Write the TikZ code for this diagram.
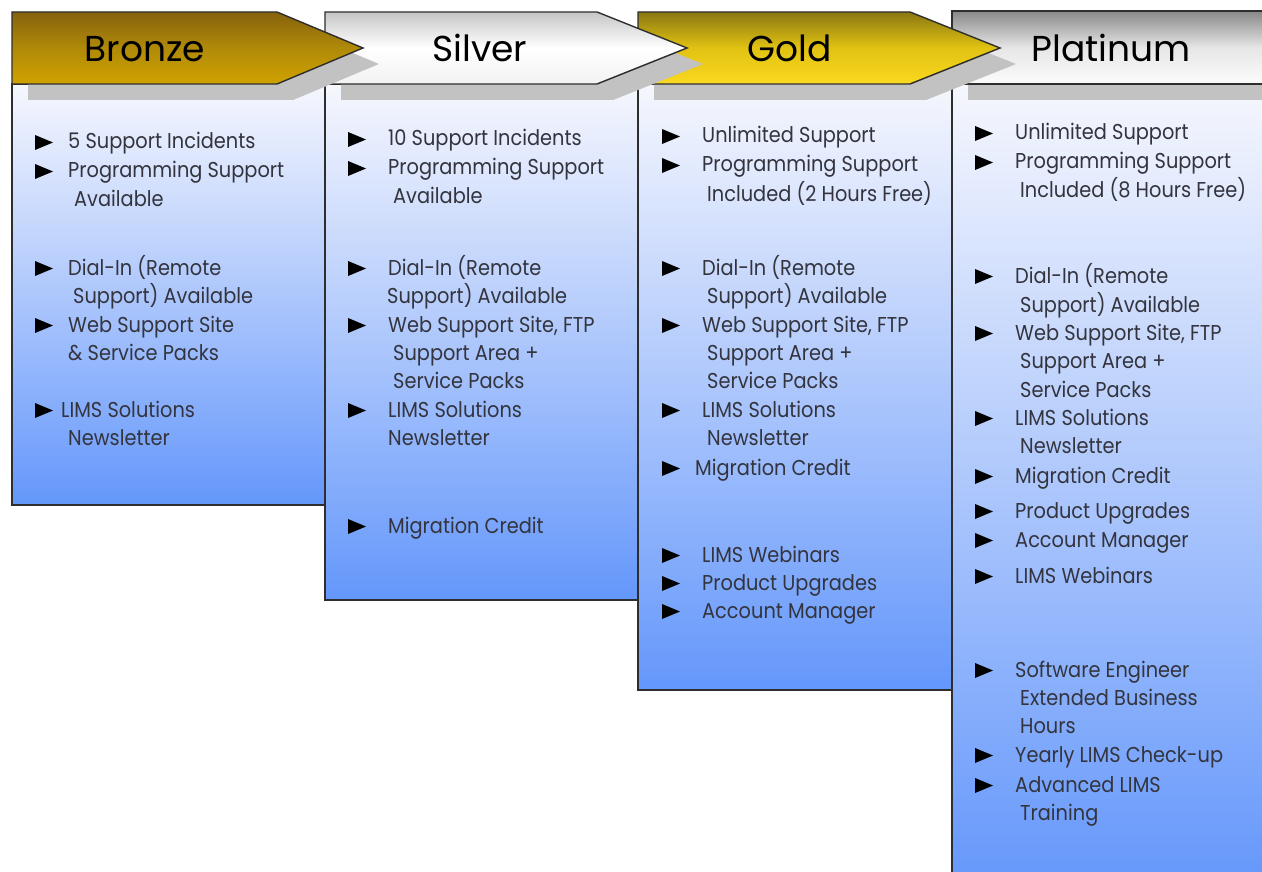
\documentclass[tikz,border=0pt]{standalone}
\usepackage{fontspec}
\setmainfont{Poppins}
\newfontfamily\bodyfont[FakeStretch=0.9]{Poppins}
\definecolor{linegray}{HTML}{2E2E2E}
\definecolor{boxtop}{HTML}{F6F7FD}
\definecolor{boxbot}{HTML}{6497FB}
\definecolor{shadowgray}{HTML}{C2C2C2}
\definecolor{txtc}{HTML}{33343E}
\definecolor{brTop}{HTML}{86620E}
\definecolor{brMid}{HTML}{B08A08}
\definecolor{brBot}{HTML}{D0A200}
\definecolor{siTop}{HTML}{C6C6C6}
\definecolor{siMid}{HTML}{FFFFFF}
\definecolor{siBot}{HTML}{F2F2F2}
\definecolor{goTop}{HTML}{8A7812}
\definecolor{goMid}{HTML}{E2C212}
\definecolor{goBot}{HTML}{FAD920}
\definecolor{plTop}{HTML}{888888}
\definecolor{plMid}{HTML}{E6E6E6}
\definecolor{plBot}{HTML}{FCFCFC}
\tikzset{
  box/.style={draw=linegray, line width=1.4pt, top color=boxtop, bottom color=boxbot},
  hdr/.style={draw=linegray, line width=1.4pt, line join=miter},
  shadowc/.style={fill=shadowgray},
  txt/.style={anchor=base west, inner sep=0pt, font=\bodyfont\fontsize{21.5}{24}\selectfont, text=txtc},
  ttl/.style={anchor=base, inner sep=0pt, font=\fontsize{36}{40}\selectfont, text=black},
}
\newcommand\itmb[5]{\fill[black] (#2,#4-14) -- (#2+18,#4-6.5) -- (#2,#4+1) -- cycle; \node[txt] (#1) at (#3,#4) {#5};}
\newcommand\itmc[4]{\node[txt] (#1) at (#2,#3) {#4};}
\begin{document}
\begin{tikzpicture}[x=1pt,y=-1pt]
\useasboundingbox (0,0) rectangle (1262,872);
\clip (0,0) rectangle (1262,872);
\fill[white] (0,0) rectangle (1262,872);
% boxes
\path[box] (12,84) rectangle (325,505);
\path[box] (325,84) rectangle (638,600);
\path[box] (638,84) rectangle (952,690);
\path[box] (952,84) rectangle (1280,890);
% platinum header
\fill[shadowc] (968,28) rectangle (1280,100);
\path[hdr, top color=plTop, bottom color=plBot, middle color=plMid] (952,11) rectangle (1280,84);
% gold header
\fill[shadowc] (654,28) -- (926,28) -- (1016,64) -- (926,100) -- (654,100) -- cycle;
\path[hdr, top color=goTop, bottom color=goBot, middle color=goMid] (638,12) -- (910,12) -- (1000,48) -- (910,84) -- (638,84) -- cycle;
% silver header
\fill[shadowc] (341,28) -- (613,28) -- (703,64) -- (613,100) -- (341,100) -- cycle;
\path[hdr, top color=siTop, bottom color=siBot, middle color=siMid] (325,12) -- (597,12) -- (687,48) -- (597,84) -- (325,84) -- cycle;
% bronze header
\fill[shadowc] (28,28) -- (293,28) -- (379,64) -- (293,100) -- (28,100) -- cycle;
\path[hdr, top color=brTop, bottom color=brBot, middle color=brMid] (12,12) -- (277,12) -- (363,48) -- (277,84) -- (12,84) -- cycle;
% titles
\node[ttl] (tB) at (145,62) {Bronze};
\node[ttl] (tS) at (480,62) {Silver};
\node[ttl] (tG) at (790,62) {Gold};
\node[ttl] (tP) at (1111,62) {Platinum};
% bronze items
\itmb{b1}{35}{68}{149}{5 Support Incidents}
\itmb{b2}{35}{68}{178}{Programming Support}
\itmc{b2c}{74}{207}{Available}
\itmb{b3}{35}{68}{275}{Dial-In (Remote}
\itmc{b3c}{73}{303}{Support) Available}
\itmb{b4}{35}{68}{332}{Web Support Site}
\itmc{b4c}{68}{360}{\& Service Packs}
\itmb{b5}{35}{61}{417}{LIMS Solutions}
\itmc{b5c}{68}{445}{Newsletter}
% silver items
\itmb{s1}{348}{388}{146}{10 Support Incidents}
\itmb{s2}{348}{388}{175}{Programming Support}
\itmc{s2c}{393}{204}{Available}
\itmb{s3}{348}{388}{275}{Dial-In (Remote}
\itmc{s3c}{387}{303}{Support) Available}
\itmb{s4}{348}{388}{332}{Web Support Site, FTP}
\itmc{s4c}{393}{360}{Support Area +}
\itmc{s4d}{393}{388}{Service Packs}
\itmb{s5}{348}{388}{417}{LIMS Solutions}
\itmc{s5c}{388}{445}{Newsletter}
\itmb{s6}{348}{388}{533}{Migration Credit}
% gold items
\itmb{g1}{662}{702}{143}{Unlimited Support}
\itmb{g2}{662}{702}{172}{Programming Support}
\itmc{g2c}{707}{201}{Included (2 Hours Free)}
\itmb{g3}{662}{702}{275}{Dial-In (Remote}
\itmc{g3c}{707}{303}{Support) Available}
\itmb{g4}{662}{702}{332}{Web Support Site, FTP}
\itmc{g4c}{707}{360}{Support Area +}
\itmc{g4d}{707}{388}{Service Packs}
\itmb{g5}{662}{702}{417}{LIMS Solutions}
\itmc{g5c}{707}{445}{Newsletter}
\itmb{g6}{662}{695}{475}{Migration Credit}
\itmb{g7}{662}{702}{562}{LIMS Webinars}
\itmb{g8}{662}{702}{590}{Product Upgrades}
\itmb{g9}{662}{702}{618}{Account Manager}
% platinum items
\itmb{p1}{975}{1015}{140}{Unlimited Support}
\itmb{p2}{975}{1015}{169}{Programming Support}
\itmc{p2c}{1020}{198}{Included (8 Hours Free)}
\itmb{p3}{975}{1015}{283}{Dial-In (Remote}
\itmc{p3c}{1020}{312}{Support) Available}
\itmb{p4}{975}{1015}{340}{Web Support Site, FTP}
\itmc{p4c}{1020}{368}{Support Area +}
\itmc{p4d}{1020}{397}{Service Packs}
\itmb{p5}{975}{1015}{425}{LIMS Solutions}
\itmc{p5c}{1020}{453}{Newsletter}
\itmb{p6}{975}{1015}{483}{Migration Credit}
\itmb{p7}{975}{1015}{518}{Product Upgrades}
\itmb{p8}{975}{1015}{547}{Account Manager}
\itmb{p9}{975}{1015}{583}{LIMS Webinars}
\itmb{p10}{975}{1015}{677}{Software Engineer}
\itmc{p10c}{1020}{705}{Extended Business}
\itmc{p10d}{1020}{733}{Hours}
\itmb{p11}{975}{1015}{762}{Yearly LIMS Check-up}
\itmb{p12}{975}{1015}{792}{Advanced LIMS}
\itmc{p12c}{1020}{820}{Training}
\end{tikzpicture}
\end{document}
